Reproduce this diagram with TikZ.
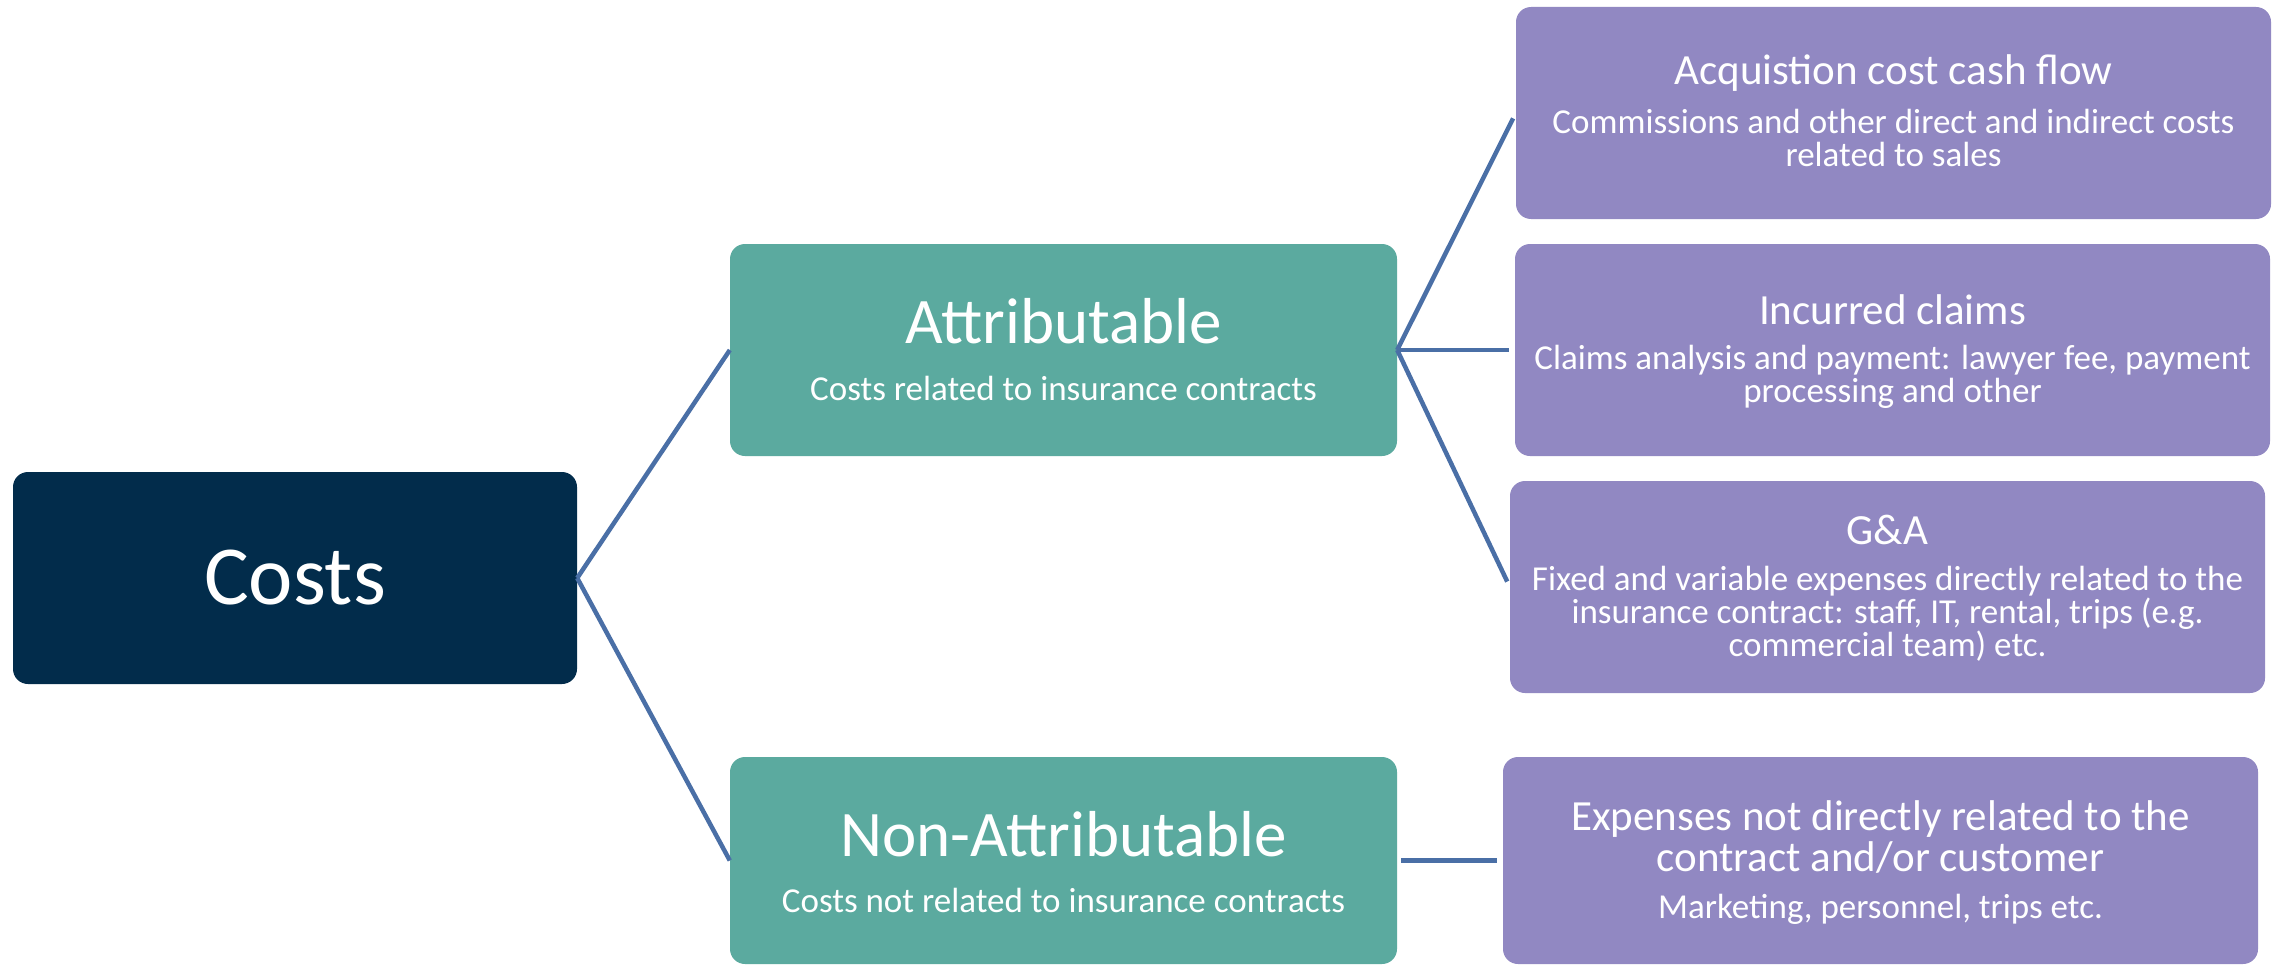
\documentclass[tikz,border=0pt]{standalone}
\usepackage{fontspec}
\setmainfont{Carlito}
\definecolor{navy}{HTML}{022C4B}
\definecolor{teal}{HTML}{5BAA9F}
\definecolor{lilac}{HTML}{9188C2}
\definecolor{wire}{HTML}{4A6FA6}
\begin{document}
\begin{tikzpicture}[x=1pt,y=-1pt,
  box/.style={rounded corners=15pt,inner sep=0pt,draw=none},
  rootbox/.style={box,fill=navy,minimum width=564pt,minimum height=212pt},
  midbox/.style={box,fill=teal,minimum width=667pt,minimum height=212pt},
  leafbox/.style={box,fill=lilac,minimum width=755pt,minimum height=212pt},
  txt/.style={text=white,inner sep=0pt,align=center},
  roottxt/.style={txt,font=\fontsize{84}{90}\selectfont},
  midtitle/.style={txt,font=\fontsize{65}{70}\selectfont},
  midsub/.style={txt,font=\fontsize{35}{40}\selectfont},
  leaftitle/.style={txt,font=\fontsize{43}{41}\selectfont},
  leafsub/.style={txt,font=\fontsize{35}{33}\selectfont},
  link/.style={draw=wire,line width=4.5pt}
]
\useasboundingbox (0,0) rectangle (2277,966);
\fill[white] (0,0) rectangle (2277,966);

% boxes
\node[rootbox] (costs) at (295,578) {};
\node[midbox] (attr) at (1063.5,350) {};
\node[midbox,minimum height=207pt] (nonattr) at (1063.5,860.5) {};
\node[leafbox] (acq) at (1893.5,113) {};
\node[leafbox] (inc) at (1892.5,350) {};
\node[leafbox] (ga) at (1887.5,587) {};
\node[leafbox,minimum height=207pt] (exp) at (1880.5,860.5) {};

% texts
\node[roottxt] (costsT) at (295,578) {Costs};

\node[midtitle] (attrT) at (1063.5,321) {Attributable};
\node[midsub] (attrS) at (1063.5,388) {Costs related to insurance contracts};
\node[midtitle] (nonattrT) at (1063.5,834) {Non-Attributable};
\node[midsub] (nonattrS) at (1063.5,900) {Costs not related to insurance contracts};

\node[leaftitle] (acqT) at (1893.5,73) {Acquistion cost cash flow};
\node[leafsub] (acqS) at (1893.5,138) {Commissions and other direct and indirect costs\\related to sales};
\node[leaftitle] (incT) at (1892.5,310) {Incurred claims};
\node[leafsub] (incS) at (1892.5,377) {Claims analysis and payment: lawyer fee, payment\\processing and other};
\node[leaftitle] (gaT) at (1887.5,530) {G\&A};
\node[leafsub] (gaS) at (1887.5,614) {Fixed and variable expenses directly related to the\\insurance contract: staff, IT, rental, trips (e.g.\\commercial team) etc.};
\node[leaftitle] (expT) at (1880.5,837) {Expenses not directly related to the\\contract and/or customer};
\node[leafsub] (expS) at (1880.5,909) {Marketing, personnel, trips etc.};

% connectors
\draw[link] (costs.east) -- (attr.west);
\draw[link] (costs.east) -- (nonattr.west);
\draw[link,shorten >=6pt] (attr.east) -- (acq.west);
\draw[link,shorten >=6pt] (attr.east) -- (inc.west);
\draw[link,shorten >=6pt] (attr.east) -- (ga.west);
\draw[link,shorten >=6pt,shorten <=4pt] (nonattr.east) -- (exp.west);
\end{tikzpicture}
\end{document}
